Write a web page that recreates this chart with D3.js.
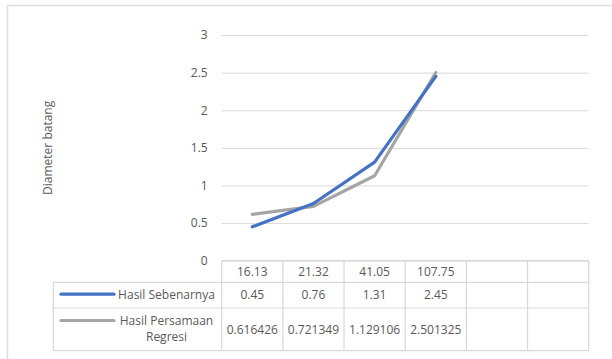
<!DOCTYPE html>
<html>
<head>
<meta charset="utf-8">
<script src="https://cdn.jsdelivr.net/npm/d3@7"></script>
<style>
  html, body { margin: 0; padding: 0; background: #fff; }
  svg { display: block; }
  text { font-family: "Open Sans", "Noto Sans", sans-serif; fill: #595959; }
</style>
</head>
<body>
<script>
// Category columns of the data table (two trailing columns are left empty)
const categories = ["16.13", "21.32", "41.05", "107.75", "", ""];
const seriesNames = ["Hasil Sebenarnya", "Hasil Persamaan Regresi"];
const sebenarnya = [0.45, 0.76, 1.31, 2.45];
const persamaan = [0.616426, 0.721349, 1.129106, 2.501325];
const yTicks = [0, 0.5, 1, 1.5, 2, 2.5, 3];
const yTitle = "Diameter batang";

const W = 612, H = 359;
const colors = ["#4472C4", "#A5A5A5"];
const series = [sebenarnya, persamaan];

const svg = d3.select("body").append("svg").attr("width", W).attr("height", H);

// chart area frame
svg.append("rect")
  .attr("x", 7.5).attr("y", 5.5).attr("width", W + 10).attr("height", H + 10)
  .attr("fill", "#fff").attr("stroke", "#dedede").attr("stroke-width", 1.5);

const plotLeft = 221.7, plotRight = 588.7, plotTop = 35, plotBottom = 260.7;
const x = d3.scaleBand().domain(d3.range(categories.length)).range([plotLeft, plotRight]);
const y = d3.scaleLinear().domain([0, 3]).range([plotBottom, plotTop]);

// gridlines + value axis labels
const yAxis = d3.axisLeft(y).tickValues(yTicks).tickFormat(d3.format(""))
  .tickSize(-(plotRight - plotLeft)).tickPadding(14);
const ga = svg.append("g").attr("transform", `translate(${plotLeft},0)`).call(yAxis);
ga.select(".domain").remove();
ga.selectAll(".tick line").attr("stroke", "#d9d9d9").attr("stroke-width", 1);
ga.selectAll(".tick text").attr("font-size", 12).attr("fill", "#595959")
  .style("font-family", '"Open Sans", sans-serif');

// axis title
svg.append("text")
  .attr("transform", `translate(52,${(plotTop + plotBottom) / 2}) rotate(-90)`)
  .attr("text-anchor", "middle").attr("font-size", 12).text(yTitle);

// data table
const rowY = [plotBottom, 282.3, 308, 350.7];
const legendLeft = 53.3;
const gt = svg.append("g").attr("stroke", "#d9d9d9").attr("stroke-width", 1.2).attr("fill", "none");
// horizontal rules
gt.append("line").attr("x1", plotLeft).attr("x2", plotRight).attr("y1", rowY[0]).attr("y2", rowY[0]);
rowY.slice(1).forEach(v => gt.append("line").attr("x1", legendLeft).attr("x2", plotRight).attr("y1", v).attr("y2", v));
// vertical rules
d3.range(categories.length + 1).forEach(i => {
  const xv = i < categories.length ? x(i) : plotRight;
  gt.append("line").attr("x1", xv).attr("x2", xv).attr("y1", rowY[0]).attr("y2", rowY[3]);
});
gt.append("line").attr("x1", legendLeft).attr("x2", legendLeft).attr("y1", rowY[1]).attr("y2", rowY[3]);

const cx = i => x(i) + x.bandwidth() / 2;
// category labels
svg.append("g").selectAll("text").data(categories).join("text")
  .attr("x", (d, i) => cx(i)).attr("y", (rowY[0] + rowY[1]) / 2)
  .attr("dy", "0.35em").attr("text-anchor", "middle").attr("font-size", 12).text(d => d);

// value cells and legend keys
series.forEach((vals, s) => {
  const midY = (rowY[s + 1] + rowY[s + 2]) / 2;
  svg.append("g").selectAll("text").data(vals).join("text")
    .attr("x", (d, i) => cx(i)).attr("y", midY).attr("dy", "0.35em")
    .attr("text-anchor", "middle").attr("font-size", 12).text(d => String(d));

  const keyY = s === 0 ? midY - 1 : rowY[s + 1] + 12.5;
  svg.append("line").attr("x1", 61).attr("x2", 114).attr("y1", keyY).attr("y2", keyY)
    .attr("stroke", colors[s]).attr("stroke-width", 3.2).attr("stroke-linecap", "round");

  // series name, wrapped to fit the legend cell
  const t = svg.append("text").attr("text-anchor", "middle").attr("font-size", 12);
  const words = seriesNames[s].split(" ");
  const lines = [];
  let cur = [];
  const probe = svg.append("text").attr("font-size", 12);
  words.forEach(w => {
    const trial = cur.concat(w).join(" ");
    probe.text(trial);
    if (probe.node().getComputedTextLength() > 100 && cur.length) { lines.push(cur.join(" ")); cur = [w]; }
    else cur.push(w);
  });
  lines.push(cur.join(" "));
  probe.remove();
  const startY = lines.length === 1 ? midY : keyY;
  lines.forEach((ln, k) => t.append("tspan").attr("x", 166.5).attr("y", startY + k * 16.5).attr("dy", "0.35em").text(ln));
});

// series lines
const line = d3.line().x((d, i) => cx(i)).y(d => y(d));
[1, 0].forEach(s => {
  svg.append("path").datum(series[s]).attr("d", line)
    .attr("fill", "none").attr("stroke", colors[s]).attr("stroke-width", 3.2)
    .attr("stroke-linejoin", "round").attr("stroke-linecap", "round");
});
</script>
</body>
</html>
